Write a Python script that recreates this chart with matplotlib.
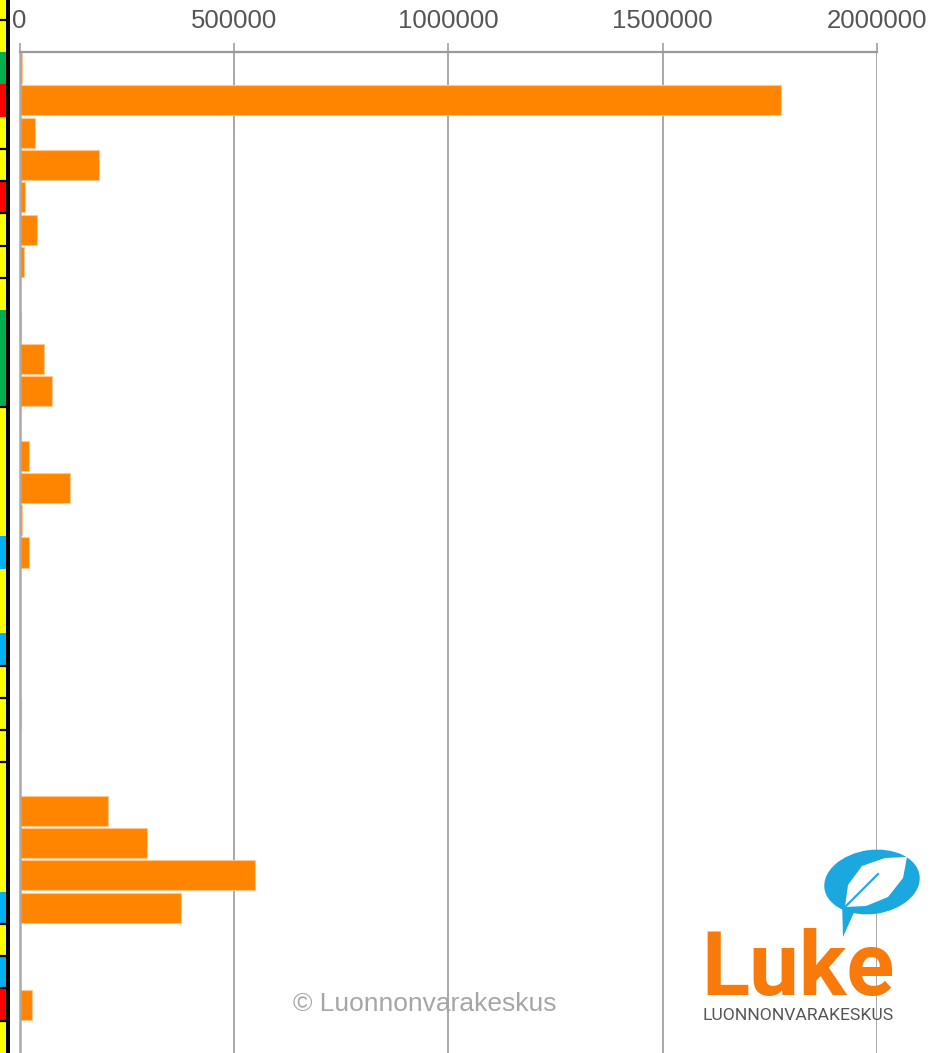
import numpy as np
import matplotlib.pyplot as plt
from matplotlib.patches import Rectangle, Ellipse, Polygon

# bar values, one per row from top to bottom
values = [6000, 1776000, 36000, 186000, 13000, 41000, 10000, 0,
          2500, 56000, 75000, 0, 21000, 118000, 5000, 21000,
          0, 0, 0, 600, 4000, 1500, 0, 206000,
          297000, 549000, 377000, 0, 600, 29000, 0]

# colour strip on the left (rows -2 .. 30)
strip_codes = ['Y', 'Y', 'G', 'R', 'Y', 'Y', 'R', 'Y', 'Y', 'Y',
               'G', 'G', 'G', 'Y', 'Y', 'Y', 'Y', 'B', 'Y', 'Y',
               'B', 'Y', 'Y', 'Y', 'Y', 'Y', 'Y', 'Y', 'B', 'Y',
               'B', 'R', 'Y']
strip_breaks = [-1, 3, 4, 5, 6, 7, 11, 19, 20, 21, 22, 27, 28, 29, 30]

xticks = [0, 500000, 1000000, 1500000, 2000000]

code_color = {'Y': '#ffff00', 'G': '#00b050', 'R': '#ff0000', 'B': '#00b0f0'}

W, H = 944, 1053
fig = plt.figure(figsize=(W / 100, H / 100), dpi=100)
plt.rcParams['font.family'] = ['Liberation Sans', 'DejaVu Sans']

top_px = 52
n = len(values)
pitch = (H - top_px) / n

# main axes
ax = fig.add_axes([19.5 / W, 0, (877 - 19.5) / W, (H - top_px) / H])
rows = np.arange(n)
ax.barh(rows, values, height=0.93, color='#ff8500', edgecolor='#ffc790',
        linewidth=0.8, zorder=2)
ax.set_xlim(0, 2000000)
ax.set_ylim(n - 0.5, -0.5)
ax.set_yticks([])
ax.xaxis.tick_top()
ax.set_xticks(xticks)
ax.set_xticklabels([str(t) for t in xticks], fontsize=18.5, color='#555555')
ax.tick_params(axis='x', direction='out', length=6.5, width=1.1,
               color='#999999', pad=7)
ax.grid(axis='x', color='#999999', linewidth=1.2, zorder=1)
ax.set_axisbelow(True)
for s in ['right', 'bottom']:
    ax.spines[s].set_visible(False)
ax.spines['top'].set_color('#999999')
ax.spines['top'].set_linewidth(1.6)
ax.spines['left'].set_color('#aaaaaa')
ax.spines['left'].set_linewidth(1.8)

# left colour strip
sax = fig.add_axes([0, 0, 9.5 / W, 1])
sax.set_xlim(0, 9.5)
top_row = -0.5 - top_px / pitch
sax.set_ylim(n - 0.5, top_row)
sax.axis('off')
for i, c in enumerate(strip_codes):
    r = i - 2
    sax.add_patch(Rectangle((0, r - 0.5), 6, 1, color=code_color[c], lw=0))
sax.add_patch(Rectangle((6, top_row), 3.5, n - 0.5 - top_row, color='black', lw=0))
for b in strip_breaks:
    sax.plot([0, 6], [b - 0.5, b - 0.5], color='black', lw=1.6)

# copyright
fig.text(425 / W, 1 - 1004 / H, '© Luonnonvarakeskus', fontsize=19,
         color='#a6a6a6', ha='center', va='center')

# logo
lax = fig.add_axes([0, 0, 1, 1])
lax.set_xlim(0, W)
lax.set_ylim(H, 0)
lax.axis('off')
lax.add_patch(Ellipse((872, 882), 96, 64, angle=-8, color='#1ba8df', lw=0))
lax.add_patch(Polygon([(842, 900), (856, 908), (843, 937)], closed=True,
                      color='#1ba8df', lw=0))
lax.add_patch(Polygon([(845, 907), (848, 885), (862, 866), (885, 858),
                       (907, 857), (903, 878), (888, 897), (866, 906)],
                      closed=True, color='white', lw=0))
lax.plot([846, 878], [906, 874], color='#1ba8df', lw=1.5)
lax.text(701, 995, 'Luke', fontsize=64, color='#f77a0b', fontweight='bold',
         family=['Roboto', 'DejaVu Sans'], ha='left', va='baseline')
lax.text(703, 1020, 'LUONNONVARAKESKUS', fontsize=12.6, color='#555555',
         family=['Roboto', 'DejaVu Sans'], ha='left', va='baseline')

fig.savefig('out.png', dpi=100)
